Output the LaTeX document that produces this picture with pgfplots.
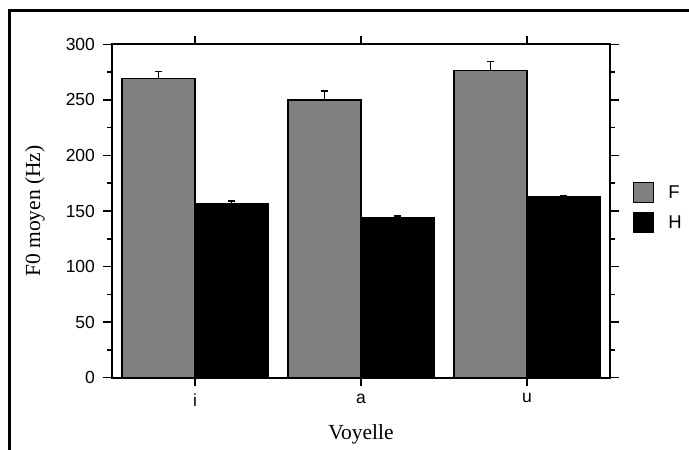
\documentclass[border=0pt]{standalone}
\usepackage{fontspec}
\setmainfont{Liberation Serif}
\setsansfont{Liberation Sans}
\usepackage{pgfplots}
\pgfplotsset{compat=1.18}
\definecolor{barF}{HTML}{808080}
\begin{document}
\begin{tikzpicture}[x=1pt,y=1pt]
\path[use as bounding box] (0,0) rectangle (689,450);
\draw[line width=2.8pt] (9.8,0) -- (9.8,439.3) -- (700,439.3);
\begin{axis}[
  at={(112pt,72.3pt)}, anchor=south west,
  scale only axis, width=498pt, height=333.4pt,
  xmin=-0.5, xmax=2.5, ymin=0, ymax=300,
  xtick={0,1,2}, xticklabels={i,a,u},
  ytick={0,50,...,300}, minor y tick num=1,
  tick align=outside,
  major tick length=8.5pt, minor tick length=4.5pt,
  axis line style={line width=1.8pt},
  every tick/.style={line width=1.5pt, black},
  /pgf/number format/assume math mode=true,
  tick label style={font=\fontsize{17.5pt}{17.5pt}\sffamily},
  yticklabel style={xshift=-5pt},
  xticklabel style={yshift=-4pt},
  xlabel={Voyelle}, ylabel={F0 moyen (Hz)},
  every axis x label/.style={at={(axis description cs:0.5,0)}, anchor=base, yshift=-62pt, font=\fontsize{21.5pt}{21.5pt}\rmfamily},
  every axis y label/.style={at={(axis description cs:0,0.5)}, xshift=-77pt, rotate=90, anchor=center, font=\fontsize{21.5pt}{21.5pt}\rmfamily},
  legend style={draw=none, fill=none, at={(1.046,0.51)}, anchor=west, inner sep=0pt,
    font=\fontsize{18.5pt}{18.5pt}\sffamily, row sep=9pt, cells={anchor=west},
    /tikz/every odd column/.append style={column sep=12pt}},
  ybar, bar shift=0pt, bar width=73pt,
]
\addplot[fill=barF, draw=black, line width=1.5pt,
  legend image code/.code={\draw[fill=barF, draw=black, line width=1.2pt] (0pt,-10pt) rectangle (20pt,10pt);},
  error bars/.cd, y dir=plus, y explicit, error bar style={line width=1.5pt, black},
  error mark=-, error mark options={rotate=90, line width=1.5pt, mark size=3.5pt, black}]
  coordinates {(-0.22,269.4) +- (0,6) (0.78,250) +- (0,8) (1.78,276.3) +- (0,8)};
\addplot[fill=black, draw=black, line width=1.5pt,
  legend image code/.code={\draw[fill=black, draw=black, line width=1.2pt] (0pt,-10pt) rectangle (20pt,10pt);},
  error bars/.cd, y dir=plus, y explicit, error bar style={line width=1.5pt, black},
  error mark=-, error mark options={rotate=90, line width=1.5pt, mark size=3.5pt, black}]
  coordinates {(0.22,156.6) +- (0,2.4) (1.22,144) +- (0,1.3) (2.22,162.6) +- (0,1.5)};
\legend{F,H}
\end{axis}
\end{tikzpicture}
\end{document}
